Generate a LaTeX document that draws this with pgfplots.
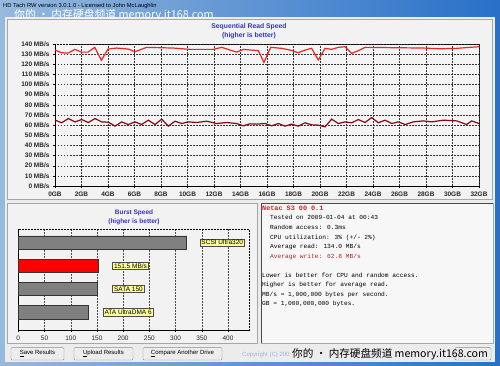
\documentclass[border=0pt]{standalone}
\usepackage{pgfplots}
\pgfplotsset{compat=1.18}
\usepackage{fontspec}
\setmainfont{Liberation Sans}
\newfontfamily\cjk{Noto Sans CJK SC}
\newfontfamily\mono{Liberation Mono}
\definecolor{winblueL}{RGB}{150,185,222}
\definecolor{winblueR}{RGB}{40,112,200}
\definecolor{body}{RGB}{236,236,236}
\definecolor{panel}{RGB}{242,242,242}
\definecolor{plotbg}{RGB}{244,244,244}
\definecolor{ttl}{RGB}{51,51,204}
\definecolor{readc}{RGB}{230,40,40}
\definecolor{writec}{RGB}{130,10,20}
\definecolor{barg}{RGB}{128,128,128}
\definecolor{tagy}{RGB}{255,255,153}
\definecolor{hdr}{RGB}{220,30,30}
\definecolor{avgw}{RGB}{170,40,40}
\definecolor{copyc}{RGB}{160,180,210}
\tikzset{tag/.style={fill=tagy, draw=black!70, inner sep=1.5pt, font=\fontsize{6.5}{7}\selectfont},
  btn/.style={fill=white!93!black, draw=black!45, rounded corners=1pt}}

\begin{document}
\begin{tikzpicture}
\useasboundingbox (0pt,0pt) rectangle (500pt,366pt);
\begin{scope}[x=1pt,y=1pt]
% window frame
\shade[left color=winblueL, right color=winblueR] (0,0) rectangle (500,366);
\fill[body] (5,4) rectangle (495,349);
% title bar text
\node[anchor=west, inner sep=0pt, font=\fontsize{5.8}{7}\selectfont] at (3,360) {HD Tach RW version 3.0.1.0 - Licensed to John McLaughlin};
\node[anchor=west, inner sep=0pt, text=white, font=\cjk\fontsize{10.8}{12}\selectfont] at (14,351) {你的 • 内存硬盘频道 memory.it168.com};
% panels
\filldraw[fill=panel, draw=gray!70] (7,167) rectangle (492,347);
\filldraw[fill=panel, draw=gray!70] (7,23) rectangle (257,163);
\filldraw[fill=white!97!black, draw=gray!70] (261,23) rectangle (493,163);
\draw[black!70, line width=0.8pt] (261,23) -- (261,163) -- (493,163);
% titles
\node[text=ttl, font=\fontsize{6.8}{7}\selectfont\bfseries] at (249,339) {Sequential Read Speed};
\node[text=ttl, font=\fontsize{6.8}{7}\selectfont\bfseries] at (249,330) {(higher is better)};
\node[text=ttl, font=\fontsize{6.5}{7}\selectfont\bfseries] at (134,153) {Burst Speed};
\node[text=ttl, font=\fontsize{6.5}{7}\selectfont\bfseries] at (134,144) {(higher is better)};
\end{scope}

\begin{axis}[at={(55pt,180pt)}, anchor=south west, scale only axis,
  width=424pt, height=142pt,
  xmin=0, xmax=32, ymin=0, ymax=140,
  xtick={0,2,...,32},
  xticklabels={0GB,2GB,4GB,6GB,8GB,10GB,12GB,14GB,16GB,18GB,20GB,22GB,24GB,26GB,28GB,30GB,32GB},
  ytick={0,10,...,140},
  yticklabels={0 MB/s,10 MB/s,20 MB/s,30 MB/s,40 MB/s,50 MB/s,60 MB/s,70 MB/s,80 MB/s,90 MB/s,100 MB/s,110 MB/s,120 MB/s,130 MB/s,140 MB/s},
  grid=major,
  grid style={black!80, dash pattern=on 1.5pt off 1.5pt, line width=0.35pt},
  axis line style={black, dash pattern=on 1.5pt off 1.5pt, line width=0.5pt},
  axis background/.style={fill=plotbg},
  tick label style={font=\fontsize{6.5}{7}\selectfont\bfseries, text=black!85},
  tick align=outside, major tick length=2pt,
  tick style={black, line width=0.4pt},
  xtick pos=bottom, ytick pos=left,
  clip=false]
\draw[black, line width=0.9pt] (rel axis cs:0,1) -- (rel axis cs:0,0) -- (rel axis cs:1,0);
\addplot[readc, line width=1.2pt] coordinates {
(0,134) (0.5,131.4) (1.0,131) (1.5,134.7) (2.0,132) (2.5,132) (3.0,136.7) (3.5,124)
(4.0,135) (4.65,136) (5.53,135) (6.04,132.4) (6.92,136.7) (8.93,136) (10.19,134.7)
(11.95,134.7) (12.58,136.7) (13.71,132) (14.21,134.7) (15.35,133.4) (15.77,121.9)
(16.28,136.7) (17.11,135.7) (17.74,134) (18.36,131.4) (18.87,134) (19.37,135.7)
(19.87,124.2) (20.38,135.7) (20.88,134.7) (21.38,136.7) (21.89,137.3) (22.39,130.8)
(22.89,133.4) (23.40,136.7) (25.28,136.4) (27.80,136) (29.06,135.3) (30.31,135.7)
(31.32,136.7) (32,137.3)};
\addplot[writec, line width=1.2pt] coordinates {
(0,65) (0.50,62.3) (1.01,66.5) (1.51,63.2) (2.01,65.5) (2.52,62.6) (3.02,66.5) (3.52,63.2)
(4.03,62.9) (4.53,59) (5.03,63.2) (5.53,60.6) (6.04,63.2) (6.54,60.6) (7.04,64.9) (7.55,60.6)
(8.05,65.9) (8.55,59) (9.06,63.9) (9.56,61.6) (10.06,63.2) (10.69,62.6) (11.45,63.9)
(12.20,61.6) (12.96,62.6) (13.71,61.6) (14.21,59.3) (14.72,61.3) (15.22,61) (15.85,61.6)
(16.35,59.3) (16.86,61.6) (17.36,59) (17.86,61) (18.36,59) (18.87,62.3) (19.37,60.3)
(19.87,60) (20.38,58.3) (20.88,65.9) (21.38,61.6) (21.89,63.2) (22.39,62.3) (22.89,65.5)
(23.40,62.6) (23.90,67.5) (24.40,62.3) (24.91,64.9) (25.41,61.6) (25.91,63.2) (26.42,60.6)
(27.04,63.2) (27.80,64.2) (28.43,63.2) (29.31,64.9) (30.31,64.2) (31.07,60.6) (31.45,64.2)
(32,61.6)};
\end{axis}

\begin{axis}[at={(18.3pt,36pt)}, anchor=south west, scale only axis,
  width=230.7pt, height=101pt,
  xmin=0, xmax=440, ymin=-0.78, ymax=3.59,
  xbar, bar shift=0pt, bar width=13.6pt,
  ytick=\empty, xtick={0,50,...,400},
  xmajorgrids,
  grid style={black!70, dash pattern=on 1.5pt off 1.5pt, line width=0.35pt},
  axis line style={black, dash pattern=on 1.5pt off 1.5pt, line width=0.5pt},
  tick label style={font=\fontsize{6.5}{7}\selectfont, text=black!85},
  /pgf/number format/assume math mode=true,
  tick align=outside, major tick length=2pt,
  tick style={black, line width=0.4pt},
  xtick pos=bottom,
  clip=false]
\draw[black, line width=0.9pt] (rel axis cs:0,1) -- (rel axis cs:0,0) -- (rel axis cs:1,0);
\addplot[fill=barg, draw=black!80] coordinates {(133,0) (150,1) (320,3)};
\addplot[fill=red, draw=black!80] coordinates {(151.5,2)};
\node[tag] at (axis cs:389,3) {SCSI Ultra320};
\node[tag] at (axis cs:214,2) {151.5 MB/s};
\node[tag] at (axis cs:210,1) {SATA 150};
\node[tag] at (axis cs:209.5,0) {ATA UltraDMA 6};
\end{axis}

\begin{scope}[x=1pt,y=1pt]
% info text
\begin{scope}[every node/.style={anchor=west, inner sep=0pt}]
\node[text=hdr, font=\mono\fontsize{6.8}{7}\selectfont\bfseries] at (262,157.7) {Netac S3 00 0.1};
\node[font=\mono\fontsize{6.2}{7}\selectfont] at (270,148.5) {Tested on 2009-01-04 at 00:43};
\node[font=\mono\fontsize{6.2}{7}\selectfont] at (270,139) {Random access: 0.3ms};
\node[font=\mono\fontsize{6.2}{7}\selectfont] at (270,128.5) {CPU utilization: 3\% (+/- 2\%)};
\node[font=\mono\fontsize{6.2}{7}\selectfont] at (270,119.5) {Average read: 134.0 MB/s};
\node[text=avgw, font=\mono\fontsize{6.2}{7}\selectfont] at (270,109.5) {Average write: 62.8 MB/s};
\node[font=\mono\fontsize{6.2}{7}\selectfont] at (262,90.5) {Lower is better for CPU and random access.};
\node[font=\mono\fontsize{6.2}{7}\selectfont] at (262,81) {Higher is better for average read.};
\node[font=\mono\fontsize{6.2}{7}\selectfont] at (262,71.5) {MB/s = 1,000,000 bytes per second.};
\node[font=\mono\fontsize{6.2}{7}\selectfont] at (262,62) {GB = 1,000,000,000 bytes.};
\end{scope}
% buttons
\draw[btn] (11,6) rectangle (64,18.3);
\draw[btn] (74,6) rectangle (133,18.3);
\draw[btn] (143,6) rectangle (222,18.3);
\draw[btn] (455,6) rectangle (491,18.3);
\node[font=\fontsize{6}{7}\selectfont] at (37.5,12.2) {\underline{S}ave Results};
\node[font=\fontsize{6}{7}\selectfont] at (103.5,12.2) {\underline{U}pload Results};
\node[font=\fontsize{6}{7}\selectfont] at (182.5,12.2) {\underline{C}ompare Another Drive};
\node[anchor=west, inner sep=0pt, text=copyc, font=\fontsize{6}{7}\selectfont] at (242,11.5) {Copyright (C) 200};
\node[anchor=west, inner sep=0pt, text=black, font=\cjk\fontsize{10.6}{12}\selectfont] at (292,12) {你的 • 内存硬盘频道 memory.it168.com};
\end{scope}
\end{tikzpicture}
\end{document}
